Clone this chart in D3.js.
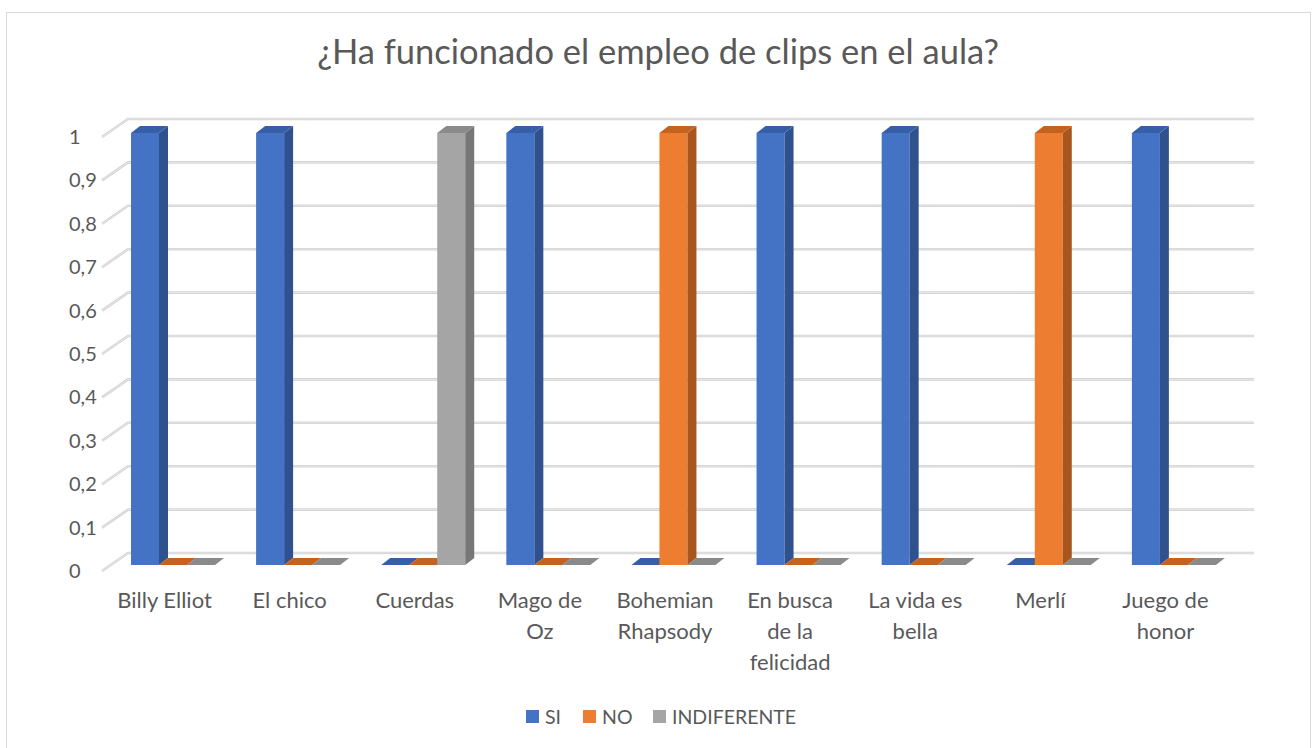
<!doctype html>
<html lang="es">
<head>
<meta charset="utf-8">
<style>
  body { margin: 0; background: #fff; }
  text { font-family: Lato, "Open Sans", sans-serif; fill: #595959; }
</style>
</head>
<body>
<svg id="chart" width="1312" height="748"></svg>
<script src="https://cdn.jsdelivr.net/npm/d3@7"></script>
<script>

var categories = ["Billy Elliot", "El chico", "Cuerdas", "Mago de\nOz", "Bohemian\nRhapsody",
                  "En busca\nde la\nfelicidad", "La vida es\nbella", "Merlí", "Juego de\nhonor"];
var series = ["SI", "NO", "INDIFERENTE"];
var si          = [1, 1, 0, 1, 0, 1, 1, 0, 1];
var no          = [0, 0, 0, 0, 1, 0, 0, 1, 0];
var indiferente = [0, 0, 1, 0, 0, 0, 0, 0, 0];
var yTicks = d3.range(0, 1.01, 0.1);

var values = [si, no, indiferente];
var frontColor = ["#4472C4", "#ED7D31", "#A5A5A5"],
    sideColor  = ["#2F528F", "#A9561E", "#777777"],
    topColor   = ["#365FA8", "#C4631F", "#8A8A8A"];

var svg = d3.select("#chart");

// chart border
svg.append("rect")
    .attr("x", 6.5).attr("y", 12.5)
    .attr("width", 1304).attr("height", 745)
    .attr("fill", "none").attr("stroke", "#d9d9d9");

svg.append("text")
    .attr("x", 658).attr("y", 64)
    .attr("text-anchor", "middle")
    .style("font-size", "34.5px")
    .text("¿Ha funcionado el empleo de clips en el aula?");

// 3d depth of the back wall
var dx = 26, dy = -18;

var x = d3.scaleBand().domain(d3.range(categories.length)).range([102, 1228]);
var yFront = d3.scaleLinear().domain([0, 1]).range([571, 137]);
var yBar = d3.scaleLinear().domain([0, 1]).range([565, 133]);
var xs = d3.scaleBand().domain(d3.range(series.length)).range([29, 113]);

var fmt = d3.formatLocale({decimal: ",", thousands: ".", grouping: [3], currency: ["", "€"]}).format("~g");

// gridlines
var grid = svg.append("g");
yTicks.forEach(function(v) {
  var yf = yFront(v), yb = yf + dy;
  var d = "M" + x.range()[0] + "," + yf + "L" + (x.range()[0] + dx) + "," + yb +
          "L" + (x.range()[1] + dx) + "," + yb;
  grid.append("path")
      .attr("d", d)
      .attr("fill", "none")
      .attr("stroke", "#d3d3d3")
      .attr("stroke-width", 2.6);
  grid.append("path")
      .attr("d", d)
      .attr("fill", "none")
      .attr("stroke", "#ececec")
      .attr("stroke-width", 0.8);
  svg.append("text")
      .attr("x", 69).attr("y", yf)
      .attr("dy", "0.35em")
      .style("font-size", "20px")
      .text(fmt(+v.toFixed(1)));
});

// bars
var bw = xs.bandwidth(), bdx = 9, bdy = -7;
var bars = svg.append("g");
categories.forEach(function(c, i) {
  series.forEach(function(s, j) {
    var v = values[j][i];
    var x0 = x(i) + xs(j), y0 = yBar(0), y1 = yBar(v);
    var g = bars.append("g");
    if (v > 0) {
      g.append("rect")
          .attr("x", x0).attr("y", y1)
          .attr("width", bw).attr("height", y0 - y1)
          .attr("fill", frontColor[j]);
      g.append("path")
          .attr("d", "M" + (x0 + bw) + "," + y1 + "L" + (x0 + bw + bdx) + "," + (y1 + bdy) +
                     "L" + (x0 + bw + bdx) + "," + (y0 + bdy) + "L" + (x0 + bw) + "," + y0 + "Z")
          .attr("fill", sideColor[j]);
    }
    g.append("path")
        .attr("d", "M" + x0 + "," + y1 + "L" + (x0 + bdx) + "," + (y1 + bdy) +
                   "L" + (x0 + bw + bdx) + "," + (y1 + bdy) + "L" + (x0 + bw) + "," + y1 + "Z")
        .attr("fill", topColor[j]);
  });
});

// category labels
categories.forEach(function(c, i) {
  var cx = x(i) + x.bandwidth() / 2;
  var t = svg.append("text")
      .attr("text-anchor", "middle")
      .style("font-size", "22px");
  c.split("\n").forEach(function(line, k) {
    t.append("tspan")
        .attr("x", cx)
        .attr("y", 608 + k * 31)
        .text(line);
  });
});

// legend
var legendX = [526, 583, 653];
var legend = svg.append("g");
series.forEach(function(s, j) {
  legend.append("rect")
      .attr("x", legendX[j]).attr("y", 710)
      .attr("width", 13).attr("height", 13)
      .attr("fill", frontColor[j]);
  legend.append("text")
      .attr("x", legendX[j] + 19).attr("y", 724)
      .style("font-size", "19.5px")
      .text(s);
});

</script>
</body>
</html>
